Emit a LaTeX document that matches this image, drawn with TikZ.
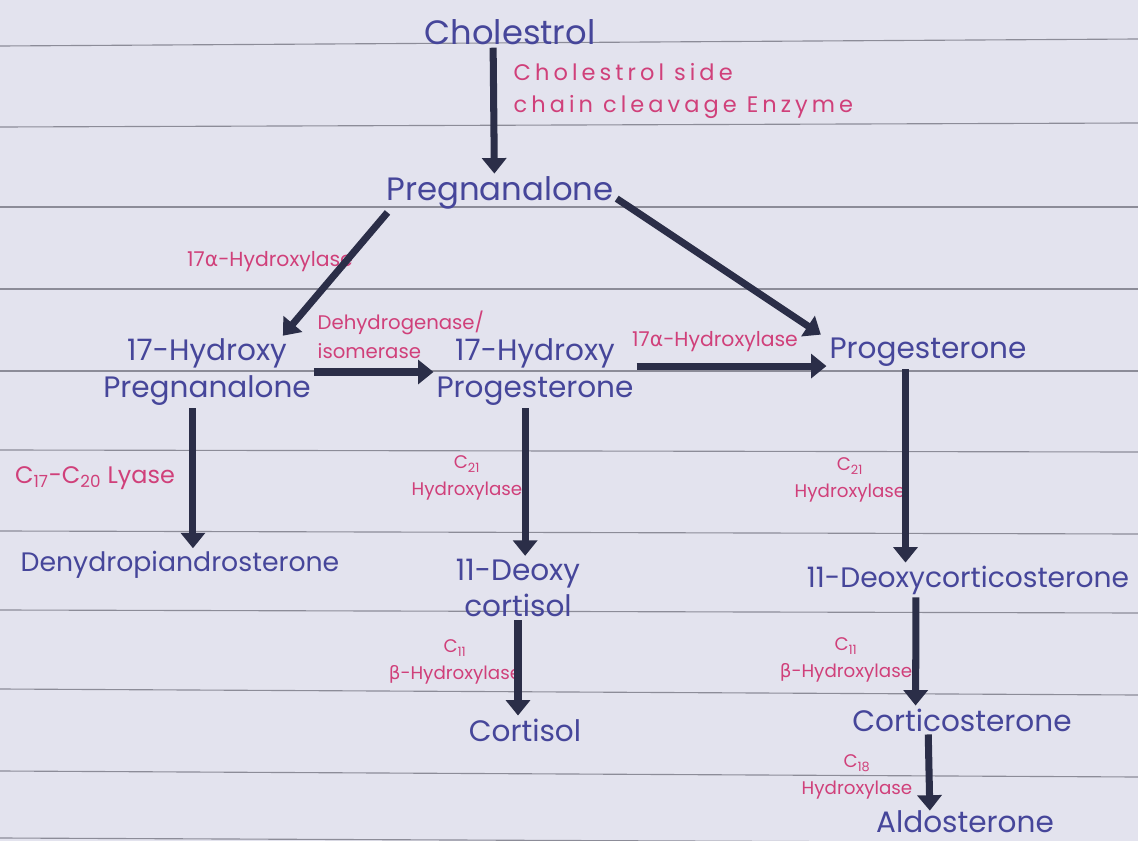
\documentclass[tikz,border=0pt]{standalone}
\usepackage{fontspec}
\setmainfont{Poppins}
\newfontfamily\grkfont{DejaVu Sans}
\usetikzlibrary{arrows.meta}
\definecolor{paper}{HTML}{E3E3EE}
\definecolor{rule}{HTML}{8C8C98}
\definecolor{cmpcol}{HTML}{46469A}
\definecolor{enzcol}{HTML}{D0407A}
\definecolor{ink}{HTML}{2B2E48}
\newcommand{\galpha}{{\grkfont α}}
\newcommand{\gbeta}{{\grkfont β}}
\begin{document}
\begin{tikzpicture}[x=0.025cm,y=-0.025cm,
  cmp/.style={text=cmpcol,font=\fontsize{21}{26}\selectfont,align=center,inner sep=2pt},
  enz/.style={text=enzcol,font=\fontsize{13}{19}\selectfont,align=center,inner sep=1pt},
  flow/.style={draw=ink,line width=5pt,-{Triangle[length=11pt,width=17pt]}}]
\useasboundingbox[fill=paper] (0,0) rectangle (1138,841);
% ruled lines of the page
\foreach \yl/\yr in {46/39,127/123,207/207,289/289,371/371,450/452,531/534,610/613,689/695,771/777,838/843}
  \draw[rule,line width=0.8pt] (0,\yl) -- (1138,\yr);
% compounds
\node[cmp,font=\fontsize{24}{26}\selectfont] (chol) at (510,32) {Cholestrol};
\node[cmp,font=\fontsize{23}{26}\selectfont] (preg) at (500,193) {Pregnanalone};
\node[cmp] (ohpreg) at (207,372) {17-Hydroxy\\ Pregnanalone};
\node[cmp] (ohprog) at (535,372) {17-Hydroxy\\ Progesterone};
\node[cmp] (prog) at (928,352) {Progesterone};
\node[cmp,font=\fontsize{19}{26}\selectfont] (dhea) at (180,565) {Denydropiandrosterone};
\node[cmp] (deoxcort) at (518,588) {11-Deoxy\\ cortisol};
\node[cmp] (cort) at (525,730) {Cortisol};
\node[cmp,font=\fontsize{20}{26}\selectfont] (doc) at (968,580) {11-Deoxycorticosterone};
\node[cmp] (corticost) at (962,720) {Corticosterone};
\node[cmp,inner sep=0pt] (aldo) at (965,822) {Aldosterone};
% enzymes
\node[enz,anchor=west,align=left,font=\fontsize{16}{23}\selectfont\addfontfeatures{LetterSpace=18}] (cscc) at (512,91) {Cholestrol side\\ chain cleavage Enzyme};
\node[enz,font=\fontsize{14.5}{19}\selectfont] (hyda) at (270,262) {17\galpha-Hydroxylase};
\node[enz,anchor=west,align=left,font=\fontsize{14}{21}\selectfont] (dehyd) at (316,335) {Dehydrogenase/\\ isomerase};
\node[enz,font=\fontsize{14.5}{19}\selectfont] (hydb) at (715,342) {17\galpha-Hydroxylase};
\node[enz,font=\fontsize{17}{19}\selectfont] (lyase) at (95,478) {C\textsubscript{17}-C\textsubscript{20} Lyase};
\node[enz] (cta) at (467,478) {C\textsubscript{21}\\ Hydroxylase};
\node[enz] (ctb) at (850,480) {C\textsubscript{21}\\ Hydroxylase};
\node[enz] (cea) at (455,662) {C\textsubscript{11}\\ \gbeta-Hydroxylase};
\node[enz] (ceb) at (846,660) {C\textsubscript{11}\\ \gbeta-Hydroxylase};
\node[enz] (cei) at (857,777) {C\textsubscript{18}\\ Hydroxylase};
% reactions
\draw[flow] ([xshift=-12pt]chol.south) -- ([xshift=-4pt]preg.north);
\draw[flow] ([xshift=3pt]preg.south west) -- ([xshift=-22pt]ohpreg.north east);
\draw[flow] ([yshift=-4pt]preg.east) -- ([xshift=-4pt]prog.north west);
\draw[flow] (ohpreg.east) -- (ohprog.west |- ohpreg.east);
\draw[flow] ([yshift=-10pt]prog.west -| ohprog.east) -- ([yshift=-10pt]prog.west);
\draw[flow] ([xshift=-10pt]ohpreg.south) -- ([xshift=-10pt]ohpreg.south |- dhea.north);
\draw[flow] ([xshift=-7pt]ohprog.south) -- ([xshift=-7pt]ohprog.south |- deoxcort.north);
\draw[flow] (deoxcort.south) -- (deoxcort.south |- cort.north);
\draw[flow] ([xshift=-16pt]prog.south) -- ([xshift=-16pt]prog.south |- doc.north);
\draw[flow] ([xshift=-37pt]doc.south) -- ([xshift=-33pt]corticost.north);
\draw[flow] ([xshift=-24pt]corticost.south) -- ([xshift=-25pt]aldo.north);
\end{tikzpicture}
\end{document}
